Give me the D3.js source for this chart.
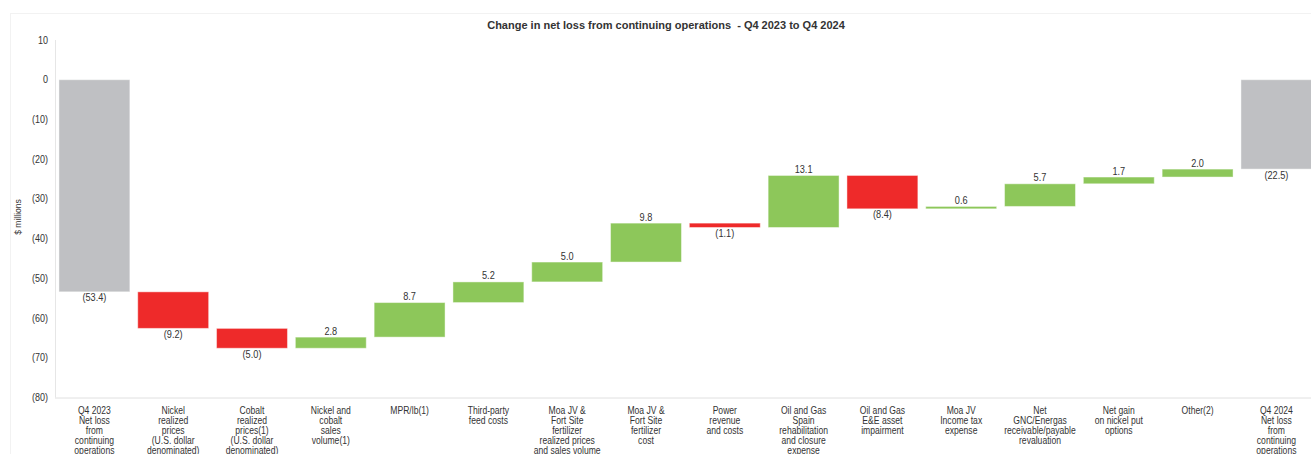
<!DOCTYPE html>
<html><head><meta charset="utf-8">
<script src="https://cdn.jsdelivr.net/npm/d3@7"></script>
<style>
html,body{margin:0;padding:0;background:#fff;}
svg{display:block;}
text{font-family:"Liberation Sans",Arial,sans-serif;}
</style></head>
<body><svg id="c" width="1311" height="454"></svg>
<script>
const categories = [
  ["Q4 2023","Net loss","from","continuing","operations"],
  ["Nickel","realized","prices","(U.S. dollar","denominated)"],
  ["Cobalt","realized","prices(1)","(U.S. dollar","denominated)"],
  ["Nickel and","cobalt","sales","volume(1)"],
  ["MPR/lb(1)"],
  ["Third-party","feed costs"],
  ["Moa JV &","Fort Site","fertilizer","realized prices","and sales volume"],
  ["Moa JV &","Fort Site","fertilizer","cost"],
  ["Power","revenue","and costs"],
  ["Oil and Gas","Spain","rehabilitation","and closure","expense"],
  ["Oil and Gas","E&E asset","impairment"],
  ["Moa JV","Income tax","expense"],
  ["Net","GNC/Energas","receivable/payable","revaluation"],
  ["Net gain","on nickel put","options"],
  ["Other(2)"],
  ["Q4 2024","Net loss","from","continuing","operations"]
];
const values = [-53.4, -9.2, -5.0, 2.8, 8.7, 5.2, 5.0, 9.8, -1.1, 13.1, -8.4, 0.6, 5.7, 1.7, 2.0, -22.5];
const kinds = ["total","delta","delta","delta","delta","delta","delta","delta","delta","delta","delta","delta","delta","delta","delta","total"];
const yTicks = [10, 0, -10, -20, -30, -40, -50, -60, -70, -80];
const titleText = "Change in net loss from continuing operations  - Q4 2023 to Q4 2024";
const yLabel = "$ millions";
const colors = {total:"#bfc0c3", up:"#8dc75a", down:"#ee2a2a"};

const svg = d3.select("#c");
// faint frame
svg.append("line").attr("x1",10).attr("x2",1311).attr("y1",13.5).attr("y2",13.5).attr("stroke","#f2f2f2");
svg.append("line").attr("x1",10.5).attr("x2",10.5).attr("y1",13).attr("y2",454).attr("stroke","#f2f2f2");

const x = d3.scaleBand().domain(d3.range(categories.length)).range([55, 55 + 16*78.8]).paddingInner(0.1).paddingOuter(0.05);
const y = d3.scaleLinear().domain([-80, 10]).range([397.5, 40]);

// compute waterfall
let run = 0;
const bars = values.map((v,i) => {
  let y0, y1, col;
  if (kinds[i] === "total") { y0 = 0; y1 = v; run = v; col = colors.total; }
  else { y0 = run; y1 = run + v; run = y1; col = v >= 0 ? colors.up : colors.down; }
  return {i, v, y0, y1, col, kind: kinds[i]};
});

// axes lines
svg.append("line").attr("x1",55.5).attr("x2",55.5).attr("y1",y(10)).attr("y2",y(-80)).attr("stroke","#e6e6e6");
svg.append("line").attr("x1",55).attr("x2",1311).attr("y1",y(-80)+0.5).attr("y2",y(-80)+0.5).attr("stroke","#e0e0e0");

const fmt = v => v < 0 ? "(" + Math.abs(v).toFixed(0) + ")" : String(v);
svg.append("g").selectAll("text").data(yTicks).join("text")
  .attr("transform",d=>`translate(48,${y(d)}) scale(0.9,1)`).attr("dy","0.35em").attr("text-anchor","end")
  .attr("font-size",10).attr("fill","#333").text(fmt);

svg.append("text").attr("transform","translate(21,217) rotate(-90) scale(0.9,1)").attr("text-anchor","middle")
  .attr("font-size",9.5).attr("fill","#333").text(yLabel);

svg.append("text").attr("x",666).attr("y",29).attr("text-anchor","middle")
  .attr("font-size",11).attr("font-weight","bold").attr("fill","#333")
  .attr("xml:space","preserve").style("white-space","pre").text(titleText);

svg.append("g").selectAll("rect").data(bars).join("rect")
  .attr("x",d=>x(d.i)).attr("width",x.bandwidth())
  .attr("y",d=>y(Math.max(d.y0,d.y1))).attr("height",d=>Math.max(1,Math.abs(y(d.y0)-y(d.y1))))
  .attr("fill",d=>d.col).attr("stroke","#ffffff").attr("stroke-opacity",0.45).attr("stroke-width",1);

const lab = v => v < 0 ? "(" + Math.abs(v).toFixed(1) + ")" : v.toFixed(1);
svg.append("g").selectAll("text").data(bars).join("text")
  .attr("transform",d=>`translate(${x(d.i)+x.bandwidth()/2},${d.v >= 0 ? y(Math.max(d.y0,d.y1)) - 2.5 : y(Math.min(d.y0,d.y1)) + 9.5}) scale(0.92,1)`)
  .attr("text-anchor","middle").attr("font-size",10).attr("fill","#333").text(d=>lab(d.v));

const cg = svg.append("g");
categories.forEach((lines,i) => {
  const t = cg.append("text").attr("transform",`translate(${x(i)+x.bandwidth()/2},0) scale(0.86,1)`)
    .attr("text-anchor","middle").attr("font-size",10).attr("fill","#333");
  lines.forEach((l,j) => t.append("tspan").attr("x",0).attr("y",414+j*10).text(l));
});
</script></body></html>
